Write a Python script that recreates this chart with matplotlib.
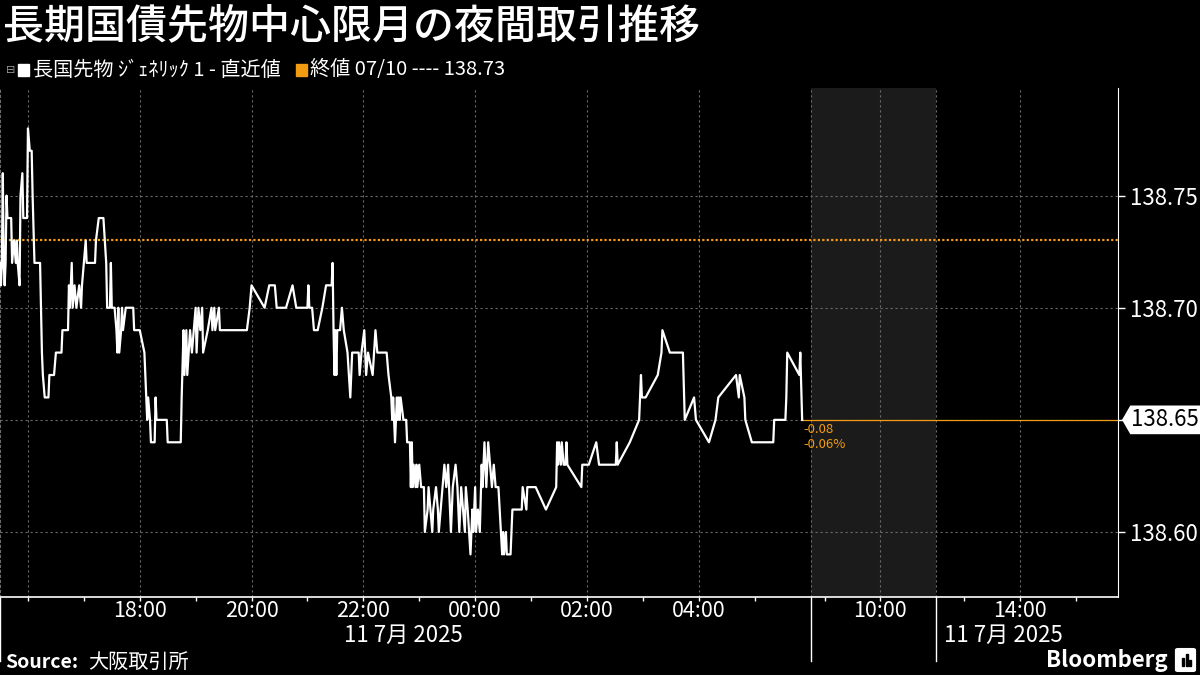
import numpy as np
import matplotlib
matplotlib.use("Agg")
import matplotlib.pyplot as plt
from matplotlib.patches import Polygon, Rectangle, FancyBboxPatch
from matplotlib.transforms import blended_transform_factory

plt.rcParams["font.family"] = ["Noto Sans CJK JP", "DejaVu Sans"]

title = "長期国債先物中心限月の夜間取引推移"
series_name = "長国先物 ｼﾞｪﾈﾘｯｸ 1 - 直近値"
close_name = "終値 07/10 ---- "
prev_close = 138.73
source = "大阪取引所"
date_label = "11 7月 2025"

# minutes after the 15:30 night-session open (7/10)
minutes = [
    0, 1, 2, 3, 4, 5, 6, 7, 8, 12, 13, 15, 17, 18, 19, 21, 22, 24, 25, 29,
    30, 32, 34, 35, 37, 43, 44, 45, 46, 48, 52, 53, 58, 60, 66, 67, 73, 74, 75, 77,
    78, 80, 82, 85, 87, 88, 90, 92, 93, 102, 103, 106, 111, 114, 115, 118, 119, 120, 123, 125,
    126, 127, 128, 130, 131, 132, 135, 143, 144, 150, 155, 157, 158, 159, 161, 162, 166, 167, 168, 179,
    180, 194, 195, 197, 198, 199, 200, 201, 204, 206, 208, 210, 211, 213, 215, 217, 218, 223, 227, 228,
    230, 231, 235, 236, 265, 268, 270, 284, 289, 295, 297, 307, 314, 318, 330, 331, 332, 335, 337, 341,
    346, 350, 356, 357, 358, 359, 360, 361, 362, 365, 367, 369, 373, 376, 378, 385, 386, 388, 391, 392,
    393, 395, 400, 403, 405, 415, 417, 420, 421, 422, 424, 425, 426, 427, 428, 429, 430, 433, 436, 437,
    440, 441, 442, 443, 444, 446, 447, 448, 450, 452, 455, 456, 459, 460, 462, 464, 465, 468, 470, 471,
    475, 477, 479, 481, 482, 484, 486, 489, 491, 493, 495, 497, 499, 500, 502, 505, 507, 508, 510, 511,
    513, 515, 517, 518, 520, 522, 524, 526, 528, 530, 532, 535, 539, 540, 541, 543, 544, 548, 550, 560,
    561, 565, 566, 575, 586, 597, 598, 599, 600, 602, 603, 605, 607, 608, 609, 624, 625, 632, 640, 643,
    661, 662, 663, 676, 686, 687, 688, 689, 693, 706, 710, 711, 719, 733, 735, 745, 747, 761, 768, 771,
    790, 793, 794, 799, 800, 807, 830, 831, 843, 844, 845, 858, 859, 861,
]
prices = [
    138.72, 138.71, 138.72, 138.76, 138.72, 138.71, 138.72, 138.75, 138.74, 138.74,
    138.72, 138.73, 138.72, 138.73, 138.72, 138.71, 138.75, 138.76, 138.74, 138.74,
    138.78, 138.77, 138.77, 138.75, 138.72, 138.72, 138.70, 138.68, 138.67, 138.66,
    138.66, 138.67, 138.67, 138.68, 138.68, 138.69, 138.69, 138.71, 138.70, 138.72,
    138.70, 138.71, 138.70, 138.71, 138.70, 138.71, 138.72, 138.73, 138.72, 138.72,
    138.73, 138.74, 138.74, 138.72, 138.70, 138.70, 138.72, 138.70, 138.70, 138.69,
    138.68, 138.70, 138.68, 138.69, 138.70, 138.69, 138.70, 138.70, 138.69, 138.69,
    138.68, 138.66, 138.65, 138.66, 138.65, 138.64, 138.64, 138.66, 138.65, 138.65,
    138.64, 138.64, 138.66, 138.69, 138.67, 138.68, 138.69, 138.67, 138.69, 138.68,
    138.69, 138.70, 138.68, 138.70, 138.69, 138.70, 138.68, 138.69, 138.70, 138.69,
    138.70, 138.69, 138.70, 138.69, 138.69, 138.70, 138.71, 138.70, 138.71, 138.71,
    138.70, 138.70, 138.71, 138.70, 138.70, 138.71, 138.70, 138.70, 138.69, 138.69,
    138.70, 138.71, 138.71, 138.72, 138.69, 138.67, 138.69, 138.67, 138.69, 138.69,
    138.70, 138.69, 138.68, 138.66, 138.68, 138.68, 138.67, 138.68, 138.69, 138.68,
    138.67, 138.68, 138.67, 138.69, 138.68, 138.68, 138.67, 138.66, 138.65, 138.66,
    138.64, 138.65, 138.66, 138.65, 138.66, 138.65, 138.66, 138.65, 138.65, 138.64,
    138.64, 138.62, 138.64, 138.62, 138.63, 138.62, 138.63, 138.62, 138.63, 138.62,
    138.62, 138.60, 138.61, 138.62, 138.61, 138.60, 138.61, 138.62, 138.61, 138.60,
    138.62, 138.63, 138.62, 138.63, 138.62, 138.60, 138.62, 138.63, 138.62, 138.60,
    138.62, 138.61, 138.60, 138.62, 138.61, 138.59, 138.61, 138.60, 138.62, 138.60,
    138.61, 138.60, 138.63, 138.62, 138.64, 138.62, 138.64, 138.63, 138.62, 138.63,
    138.62, 138.62, 138.59, 138.60, 138.59, 138.60, 138.59, 138.59, 138.61, 138.61,
    138.62, 138.61, 138.62, 138.62, 138.61, 138.62, 138.64, 138.63, 138.64, 138.63,
    138.64, 138.63, 138.63, 138.64, 138.63, 138.62, 138.63, 138.63, 138.64, 138.63,
    138.63, 138.64, 138.63, 138.64, 138.65, 138.66, 138.67, 138.66, 138.66, 138.67,
    138.68, 138.69, 138.68, 138.68, 138.65, 138.66, 138.65, 138.64, 138.65, 138.66,
    138.67, 138.66, 138.67, 138.66, 138.65, 138.64, 138.64, 138.65, 138.65, 138.66,
    138.68, 138.67, 138.68, 138.65,
]

# sessions on the axis (minutes after 15:30); gaps between them are squeezed out
night_end = 870         # 06:00
morning = (1035, 1170)  # 08:45 - 11:00 (shaded)
afternoon_start = 1260  # 12:30
day_end = 1455          # 15:45

hour_ticks = ["16:00", "17:00", "18:00", "19:00", "20:00", "21:00", "22:00", "23:00",
              "00:00", "01:00", "02:00", "03:00", "04:00", "05:00",
              "09:00", "10:00", "13:00", "14:00", "15:00"]
labelled = ["18:00", "20:00", "22:00", "00:00", "02:00", "04:00", "10:00", "14:00"]
grid_hours = ["16:00"] + labelled
y_ticks = [138.60, 138.65, 138.70, 138.75]


def to_min(s):
    h, m = s.split(":")
    return (int(h) * 60 + int(m) - 930) % 1440


src = [0, night_end, morning[0], morning[1], afternoon_start, day_end]
dst = [0, night_end, night_end + 0.01, night_end + 135.01, night_end + 135.02, 1200.02]


def fwd(x):
    x = np.asarray(x, float)
    return np.where(x < 0, x, np.where(x > day_end, x - day_end + dst[-1], np.interp(x, src, dst)))


def inv(x):
    x = np.asarray(x, float)
    return np.where(x < 0, x, np.where(x > dst[-1], x - dst[-1] + day_end, np.interp(x, dst, src)))


W, H = 1200, 675
fig = plt.figure(figsize=(12, 6.75), dpi=100, facecolor="black")


def fx(px):
    return px / W


def fy(py):
    return 1 - py / H


ax = fig.add_axes([0, fy(597), fx(1118), fy(88) - fy(597)], facecolor="black")
ax.set_xscale("function", functions=(fwd, inv))
ax.set_xlim(0, day_end)
ax.set_ylim(138.571, 138.798)

grid_kw = dict(color="#6a6a6a", lw=0.8, ls=(0, (2, 2.5)))
ax.axvspan(morning[0], morning[1], color="#1b1b1b", lw=0, zorder=0)
for y in y_ticks:
    ax.axhline(y, **grid_kw, zorder=1)
for h in grid_hours:
    ax.axvline(to_min(h), **grid_kw, zorder=1)
ax.axvline(morning[0], **grid_kw, zorder=1)
ax.axvline(morning[1], **grid_kw, zorder=1)

ax.axhline(prev_close, color="#f39c12", lw=1.6, ls=(0, (1, 1)), zorder=2)
ax.plot(minutes, prices, color="white", lw=1.6, zorder=4)

last = prices[-1]
ax.plot([minutes[-1], day_end], [last, last], color="#f39c12", lw=0.9, zorder=3)
chg = last - prev_close
ax.annotate(f"{chg:.2f}", (minutes[-1], last), xytext=(1, -10), textcoords="offset pixels",
            color="#f39c12", fontsize=9.5, va="center", ha="left")
ax.annotate(f"{chg / prev_close * 100:.2f}%", (minutes[-1], last), xytext=(1, -25),
            textcoords="offset pixels", color="#f39c12", fontsize=9.5, va="center", ha="left")

# axes styling
ax.spines["top"].set_visible(False)
ax.spines["left"].set_color("#6a6a6a")
ax.spines["left"].set_linestyle((0, (2, 2.5)))
ax.spines["left"].set_linewidth(0.8)
ax.spines["right"].set_color("white")
ax.spines["bottom"].set_color("white")
ax.spines["bottom"].set_linewidth(1.2)

ax.yaxis.tick_right()
ax.set_yticks(y_ticks)
ax.set_yticklabels([f"{v:.2f}" if abs(v - last) > 1e-9 else "" for v in y_ticks])
ax.tick_params(axis="y", colors="white", labelsize=16, length=5, width=1, pad=4)

ax.set_xticks([to_min(h) for h in hour_ticks])
ax.set_xticklabels([h if h in labelled else "" for h in hour_ticks])
ax.tick_params(axis="x", colors="white", labelsize=15.5, length=3, width=1, pad=-1)

# session separators reaching down into the label band
bt = blended_transform_factory(ax.transData, ax.transAxes)
for xm in [0, night_end, morning[1]]:
    ax.plot([xm, xm], [0, -0.125], color="white", lw=1, transform=bt, clip_on=False)
ax.text(433, -0.076, date_label, transform=bt, color="white", fontsize=16, ha="center", va="center")
ax.text(afternoon_start + 8, -0.076, date_label, transform=bt, color="white", fontsize=16,
        ha="left", va="center")

# last-price tag on the right axis
tt = blended_transform_factory(ax.transAxes, ax.transData)
hh = 0.0064
tag = Polygon([(1.0036, last), (1.011, last + hh), (1.074, last + hh), (1.074, last - hh),
               (1.011, last - hh)], closed=True, facecolor="white", edgecolor="none",
              transform=tt, clip_on=False, zorder=5)
ax.add_patch(tag)
ax.text(1.042, last, f"{last:.2f}", transform=tt, color="black", fontsize=16,
        ha="center", va="center", zorder=6)

# title and legend line
fig.text(fx(3), fy(27), title, color="white", fontsize=29.5, fontweight="medium", va="center")
fig.text(fx(6), fy(70), "⊟", color="#9a9a9a", fontsize=8, va="center")
fig.patches.append(Rectangle((fx(18), fy(76)), fx(11), fy(64) - fy(76), color="white",
                             transform=fig.transFigure))
fig.text(fx(33), fy(70), series_name, color="white", fontsize=14.5, va="center")
fig.patches.append(Rectangle((fx(296), fy(76)), fx(11), fy(64) - fy(76), color="#f39c12",
                             transform=fig.transFigure))
fig.text(fx(310), fy(70), f"{close_name}{prev_close:.2f}", color="white", fontsize=14.5,
         va="center")

# footer
fig.text(fx(5), fy(662), "Source:", color="white", fontsize=14, fontweight="bold", va="center")
fig.text(fx(88), fy(662), source, color="white", fontsize=14.5, va="center")
fig.text(fx(1168), fy(660), "Bloomberg", color="white", fontsize=16, fontweight="bold",
         ha="right", va="center")
fig.patches.append(FancyBboxPatch((fx(1178), fy(670)), fx(15), fy(650) - fy(670),
                                  boxstyle="round,pad=0.002", color="white",
                                  transform=fig.transFigure))
for bx, bh in [(1182, 8), (1185.5, 12), (1189, 6)]:
    fig.patches.append(Rectangle((fx(bx), fy(666)), fx(2), fy(666 - bh) - fy(666),
                                 color="black", transform=fig.transFigure))

fig.savefig("out.png", dpi=100, facecolor="black")
